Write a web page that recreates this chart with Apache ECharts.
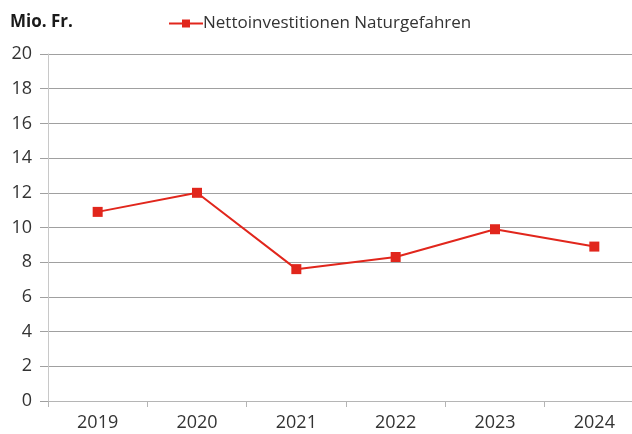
<!DOCTYPE html>
<html>
<head>
<meta charset="utf-8">
<script src="https://cdn.jsdelivr.net/npm/echarts@6/dist/echarts.min.js"></script>
<style>
  html, body { margin: 0; padding: 0; background: #fff; overflow: hidden; }
  #chart { width: 644px; height: 434px; }
</style>
</head>
<body>
<div id="chart"></div>
<script>
const years = ['2019', '2020', '2021', '2022', '2023', '2024']
const nettoInvest = [10.9, 12.0, 7.6, 8.3, 9.9, 8.9]
const seriesName = 'Nettoinvestitionen Naturgefahren'
const unitLabel = 'Mio. Fr.'

// plot area runs a bit past the right edge of the picture, so the div is wider than the window
const chart = echarts.init(document.getElementById('chart'))
const font = '"Open Sans", "Noto Sans", sans-serif'
const red = '#e1261c'

chart.setOption({
  animation: false,
  textStyle: {fontFamily: font},
  title: {
    text: unitLabel,
    left: 5,
    top: 9,
    textStyle: {fontSize: 17, fontWeight: 'bold', color: '#1a1a1a', fontFamily: font},
  },
  legend: {
    data: [seriesName],
    left: 163,
    top: 10,
    itemWidth: 34,
    itemHeight: 10,
    itemGap: 4,
    itemStyle: {borderWidth: 0},
    lineStyle: {width: 2},
    textStyle: {fontSize: 17, color: '#333', fontFamily: font, padding: [0, 0, 0, -5]},
  },
  grid: {
    left: 48,
    right: 0,
    top: 54,
    bottom: 33,
    containLabel: false,
  },
  xAxis: {
    type: 'category',
    data: years,
    boundaryGap: true,
    axisLine: {lineStyle: {color: '#b5b5b5', width: 1}},
    axisTick: {show: true, length: 6, lineStyle: {color: '#b5b5b5'}},
    axisLabel: {fontSize: 18, color: '#333', margin: 13, fontFamily: font},
  },
  yAxis: {
    type: 'value',
    min: 0,
    max: 20,
    interval: 2,
    axisLine: {show: true, lineStyle: {color: '#c8c8c8', width: 1}},
    axisTick: {show: true, length: 8, lineStyle: {color: '#a0a0a0'}},
    axisLabel: {fontSize: 18, color: '#333', margin: 16, fontFamily: font},
    splitLine: {lineStyle: {color: '#a0a0a0', width: 1}},
  },
  series: [
    {
      name: seriesName,
      type: 'line',
      data: nettoInvest,
      symbol: 'rect',
      symbolSize: 10,
      lineStyle: {color: red, width: 2},
      itemStyle: {color: red},
    },
  ],
})
</script>
</body>
</html>
